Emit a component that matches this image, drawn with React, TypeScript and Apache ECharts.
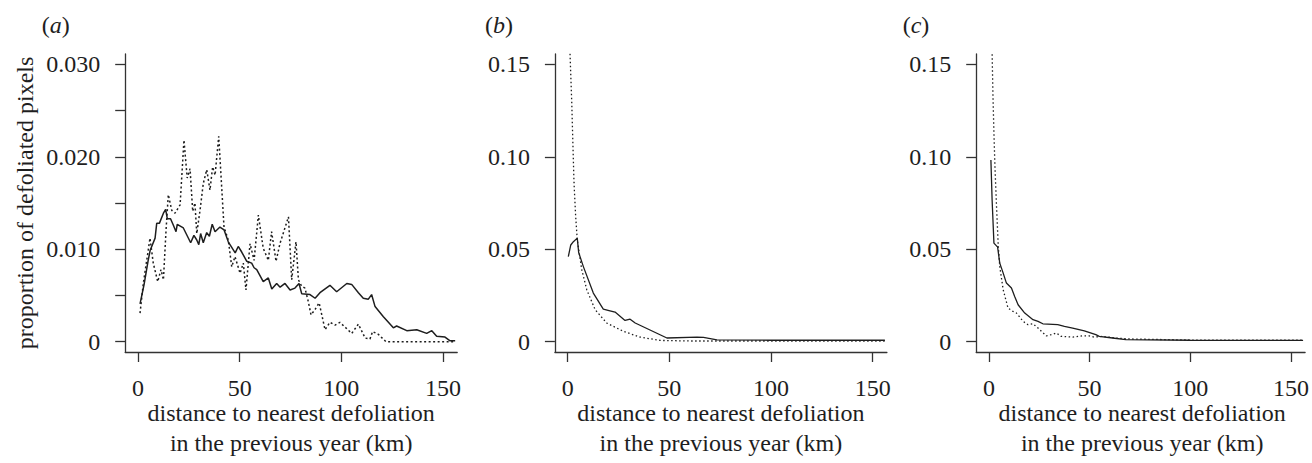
import React, { useEffect, useRef } from "react";
import * as echarts from "echarts";

// ---- data (x: distance km, y: proportion of defoliated pixels) ----
const A_SOLID: number[][] = [
  [1, 0.0041], [3, 0.0062], [5, 0.0088], [6, 0.0099], [8.4, 0.0112], [9.2, 0.0128],
  [10.5, 0.0128], [12.5, 0.0139], [13.6, 0.0143], [14.4, 0.0133], [16, 0.0133],
  [17.4, 0.0126], [18.7, 0.0119], [19.3, 0.0127], [22.3, 0.0123], [25.9, 0.0107],
  [27.5, 0.0115], [28.9, 0.011], [29.9, 0.0105], [30.8, 0.0117], [32.1, 0.0107],
  [33.8, 0.0118], [35.1, 0.0114], [36.5, 0.0127], [37.9, 0.0119], [40.3, 0.0124],
  [42.3, 0.0121], [44.4, 0.0108], [47.8, 0.0096], [49.3, 0.0103], [51, 0.0097],
  [53.5, 0.0087], [55.9, 0.0085], [57.1, 0.008], [58.4, 0.0078], [61.6, 0.0065],
  [64.1, 0.0069], [65.8, 0.0057], [68.2, 0.0063], [69.9, 0.0059], [72.3, 0.0063],
  [74.8, 0.0056], [77.2, 0.0058], [79.2, 0.0063], [80.5, 0.0052], [84.6, 0.0051],
  [87.1, 0.0047], [89.5, 0.0053], [94.4, 0.0061], [97.7, 0.0054], [102.7, 0.0063],
  [105.1, 0.0062], [108.4, 0.0053], [110.8, 0.0047], [113.3, 0.0046], [114.9, 0.0051],
  [116.6, 0.0038], [120.7, 0.0027], [125.6, 0.0015], [127.2, 0.0017], [132.2, 0.0012],
  [137.1, 0.0013], [142, 0.0009], [144.5, 0.0012], [146.9, 0.0006], [151, 0.0005],
  [153.5, 0.0001], [156, 0.0001],
];
const A_DOTTED: number[][] = [
  [1, 0.0031], [2.6, 0.0063], [5.9, 0.0112], [7.5, 0.0085], [9.7, 0.0065], [11.3, 0.0078],
  [12.5, 0.0067], [13.8, 0.0121], [14.9, 0.0159], [16.6, 0.0142], [18.2, 0.0139],
  [20.7, 0.0148], [22.6, 0.0218], [24.2, 0.0177], [25.6, 0.0187], [26.9, 0.0141],
  [28, 0.015], [28.9, 0.0117], [30.5, 0.0142], [32.1, 0.0171], [33.8, 0.0186],
  [35.4, 0.0164], [36.7, 0.0189], [37.9, 0.018], [39.7, 0.0222], [42.3, 0.0124],
  [44.4, 0.011], [46.1, 0.0081], [47.7, 0.0092], [50.2, 0.0074], [51.8, 0.0085],
  [53.1, 0.0056], [55.1, 0.0106], [57.1, 0.0088], [59.2, 0.0137], [61.6, 0.0101],
  [64.1, 0.0088], [65.7, 0.0119], [67.9, 0.0087], [69.8, 0.0106], [74, 0.0135],
  [75.6, 0.0067], [77.7, 0.0108], [78.9, 0.0067], [80.5, 0.006], [82.1, 0.0058],
  [83.8, 0.0043], [85.1, 0.0029], [87.1, 0.0035], [89.1, 0.0042], [90, 0.0033],
  [92, 0.0013], [94.4, 0.0021], [96.9, 0.0018], [99.3, 0.0021], [102.7, 0.0014],
  [105.1, 0.0009], [108.4, 0.0019], [111.7, 0.0004], [114.1, 0.0003], [115.4, 0.0011],
  [118.2, 0.0008], [122, 0], [156, 0],
];
const B_SOLID: number[][] = [
  [0.3, 0.046], [1.5, 0.0523], [2.8, 0.0541], [4.7, 0.056], [5.4, 0.0482], [7.7, 0.0406],
  [12.6, 0.0263], [17.5, 0.0176], [20.8, 0.0167], [23.3, 0.016], [28.2, 0.0115],
  [30.7, 0.0122], [33.2, 0.0101], [48.8, 0.002], [63.6, 0.0025], [66.8, 0.0023],
  [73.4, 0.001], [100, 0.0008], [156, 0.0008],
];
const B_DOTTED: number[][] = [
  [1, 0.16], [2, 0.129], [2.5, 0.109], [3.1, 0.086], [3.9, 0.068], [4.7, 0.055],
  [6.9, 0.039], [9.4, 0.028], [13.5, 0.0173], [19.2, 0.0101], [27.4, 0.0056],
  [35.6, 0.0025], [45.5, 0.0007], [60, 0.0004], [156, 0.0004],
];
const C_SOLID: number[][] = [
  [1, 0.0982], [1.6, 0.0766], [2.5, 0.0533], [3.8, 0.0518], [4.3, 0.0514], [5.4, 0.0425],
  [7.1, 0.0371], [8.7, 0.0317], [11.2, 0.029], [12.8, 0.0245], [14.5, 0.02], [17.8, 0.0155],
  [21.9, 0.0119], [24.4, 0.011], [26.8, 0.0097], [34.2, 0.0092], [37.5, 0.0083],
  [41.6, 0.0074], [47.4, 0.0059], [53.1, 0.0038], [54.8, 0.0029], [61.4, 0.002],
  [68, 0.0011], [100, 0.0008], [156, 0.0007],
];
const C_DOTTED: number[][] = [
  [1, 0.19], [2, 0.134], [2.5, 0.113], [3, 0.095], [3.8, 0.073], [4.6, 0.053],
  [5.4, 0.0406], [7.1, 0.0281], [9.5, 0.0182], [12, 0.0164], [13.7, 0.0155], [17, 0.011],
  [19.4, 0.0092], [21.9, 0.0097], [24.4, 0.0074], [28.5, 0.0032], [31, 0.0038],
  [33.5, 0.0047], [35.9, 0.0029], [41.6, 0.0025], [46.6, 0.0032], [49.8, 0.0032],
  [52.2, 0.0025], [56.4, 0.0029], [63, 0.002], [69.6, 0.0015], [100, 0.0009], [156, 0.0008],
];

const X_TICKS = [0, 50, 100, 150];
const A_Y_TICKS = [0, 0.005, 0.01, 0.015, 0.02, 0.025, 0.03];
const A_Y_LABELS = [0, 0.01, 0.02, 0.03];
const BC_Y_TICKS = [0, 0.05, 0.1, 0.15];
const PANEL_LABELS = ["a", "b", "c"];
const X_TITLE = "distance to nearest defoliation\nin the previous year (km)";
const Y_TITLE = "proportion of defoliated pixels";

const FONT = "Liberation Serif";
const INK = "#1e1e1e";
const AXIS = "#333";

export default function App() {
  const ref = useRef<HTMLDivElement>(null);
  useEffect(() => {
    if (!ref.current) return;
    const chart = echarts.init(ref.current, undefined, { renderer: "svg" });
    const lefts = [125.2, 554.9, 976.2];
    const width = 332;
    const top = 54;
    const height = 298;
    const yRanges = [
      [-0.00111, 0.03111],
      [-0.00556, 0.15556],
      [-0.00556, 0.15556],
    ];
    const grids = lefts.map((l) => ({ left: l, top, width, height }));
    const xAxes = lefts.map((_, i) => ({
      type: "value",
      gridIndex: i,
      min: -6.3,
      max: 157,
      axisLine: { show: true, onZero: false, lineStyle: { color: AXIS, width: 1.3 } },
      axisTick: { show: true, length: 10, customValues: X_TICKS, lineStyle: { color: AXIS, width: 1.3 } },
      axisLabel: { customValues: X_TICKS, margin: 24, fontFamily: FONT, fontSize: 24, color: INK },
      splitLine: { show: false },
    }));
    const yAxes = lefts.map((_, i) => ({
      type: "value",
      gridIndex: i,
      min: yRanges[i][0],
      max: yRanges[i][1],
      axisLine: { show: true, onZero: false, lineStyle: { color: AXIS, width: 1.3 } },
      axisTick: {
        show: true,
        length: 10,
        customValues: i === 0 ? A_Y_TICKS : BC_Y_TICKS,
        lineStyle: { color: AXIS, width: 1.3 },
      },
      axisLabel: {
        customValues: i === 0 ? A_Y_LABELS : BC_Y_TICKS,
        margin: 25,
        fontFamily: FONT,
        fontSize: 24,
        color: INK,
        formatter: (v: number) => (Math.abs(v) < 1e-9 ? "0" : v.toFixed(i === 0 ? 3 : 2)),
      },
      splitLine: { show: false },
    }));
    const solids = [A_SOLID, B_SOLID, C_SOLID];
    const dotteds = [A_DOTTED, B_DOTTED, C_DOTTED];
    const series: any[] = [];
    for (let i = 0; i < 3; i++) {
      series.push({
        type: "line",
        xAxisIndex: i,
        yAxisIndex: i,
        data: dotteds[i],
        showSymbol: false,
        symbol: "none",
        clip: true,
        lineStyle: { color: INK, width: i === 0 ? 1.5 : 1.3, type: i === 0 ? [2, 2.5] : [1.5, 2.5] },
      });
      series.push({
        type: "line",
        xAxisIndex: i,
        yAxisIndex: i,
        data: solids[i],
        showSymbol: false,
        symbol: "none",
        clip: true,
        lineStyle: { color: INK, width: i === 0 ? 1.5 : 1.3, type: "solid" },
      });
    }
    const graphic: any[] = [];
    const labelX = [41.7, 485, 902.7];
    PANEL_LABELS.forEach((p, i) => {
      graphic.push({
        type: "text",
        left: labelX[i],
        top: 13,
        style: {
          text: "{n|(}{it|" + p + "}{n|)}",
          rich: {
            n: { fontFamily: FONT, fontSize: 24, fill: INK },
            it: { fontFamily: FONT, fontSize: 24, fontStyle: "italic", fill: INK },
          },
        },
      });
      graphic.push({
        type: "text",
        x: lefts[i] + width / 2,
        y: 428,
        style: {
          text: X_TITLE,
          fontFamily: FONT,
          fontSize: 24,
          lineHeight: 30,
          fill: INK,
          align: "center",
          verticalAlign: "middle",
        },
      });
    });
    graphic.push({
      type: "text",
      x: 25,
      y: 203,
      rotation: Math.PI / 2,
      style: {
        text: Y_TITLE,
        fontFamily: FONT,
        fontSize: 24,
        fill: INK,
        align: "center",
        verticalAlign: "middle",
      },
    });
    chart.setOption({
      animation: false,
      backgroundColor: "#fff",
      grid: grids,
      xAxis: xAxes,
      yAxis: yAxes,
      series,
      graphic,
    });
    return () => chart.dispose();
  }, []);
  return (
    <div
      ref={ref}
      style={{ position: "absolute", left: 0, top: 0, width: 1312, height: 463 }}
    />
  );
}
